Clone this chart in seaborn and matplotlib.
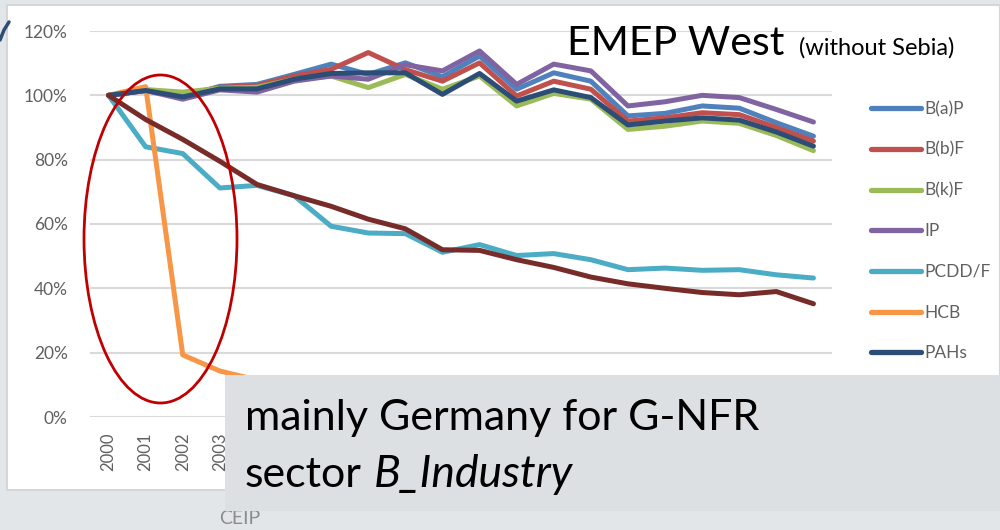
import numpy as np
import pandas as pd
import matplotlib
matplotlib.use("Agg")
import matplotlib.pyplot as plt
import seaborn as sns
from matplotlib.patches import Rectangle, Ellipse
from matplotlib.lines import Line2D

# ---------------- data ----------------
years = [str(y) for y in range(2000, 2020)]
bap = [100, 101.5, 99.5, 102.8, 103.4, 106.5, 109.7, 106.5, 110.1, 105.8,
       112.2, 101.9, 107.0, 104.4, 93.6, 94.4, 96.7, 96.0, 91.5, 87.3]
bbf = [100, 101.5, 100.2, 102.5, 103.0, 106.0, 108.1, 113.3, 108.0, 104.4,
       110.1, 99.8, 104.4, 101.9, 92.0, 93.0, 94.6, 94.0, 90.0, 85.8]
bkf = [100, 101.8, 101.0, 102.2, 102.5, 105.0, 106.0, 102.4, 106.5, 101.9,
       106.0, 96.7, 100.6, 98.8, 89.4, 90.4, 92.0, 91.3, 87.5, 82.8]
ip = [100, 101.5, 98.8, 101.7, 101.0, 104.4, 106.0, 105.0, 109.5, 107.6,
      113.8, 103.4, 109.7, 107.6, 96.7, 98.0, 100.0, 99.3, 95.6, 91.7]
pcdd = [100, 84.0, 81.9, 71.2, 72.0, 68.8, 59.3, 57.2, 57.0, 51.2,
        53.6, 50.2, 50.8, 48.9, 45.8, 46.3, 45.6, 45.8, 44.2, 43.2]
hcb = [100, 102.7, 19.3, 14.3, 11.5, 10.5, 10.0, 9.5, 9.0, 8.5,
       8.5, 8.0, 8.0, 7.5, 7.5, 7.0, 7.0, 7.0, 6.5, 6.5]
pahs = [100, 101.5, 99.5, 102.0, 102.0, 105.0, 106.8, 107.0, 107.0, 100.3,
        106.8, 98.2, 101.7, 99.3, 90.8, 92.0, 93.0, 92.3, 88.6, 84.2]
pcbs = [100, 92.5, 86.3, 79.5, 72.3, 68.8, 65.5, 61.5, 58.5, 52.0,
        51.8, 48.9, 46.5, 43.5, 41.4, 40.0, 38.7, 38.0, 39.0, 35.2]

series_names = ["B(a)P", "B(b)F", "B(k)F", "IP", "PCDD/F", "HCB", "PAHs", "PCBs"]
series_values = [bap, bbf, bkf, ip, pcdd, hcb, pahs, pcbs]
legend_names = ["B(a)P", "B(b)F", "B(k)F", "IP", "PCDD/F", "HCB", "PAHs"]
colors = ["#4F81BD", "#C0504D", "#9BBB59", "#8064A2", "#4BACC6", "#F79646",
          "#2C4D75", "#772C2A"]
y_ticks = [0, 20, 40, 60, 80, 100, 120]
y_tick_labels = ["0%", "20%", "40%", "60%", "80%", "100%", "120%"]

rows = []
for name, vals in zip(series_names, series_values):
    for i, v in enumerate(vals):
        rows.append({"pos": i, "year": years[i], "value": v, "series": name})
df = pd.DataFrame(rows)

# ---------------- style ----------------
sns.set_theme(style="white")
plt.rcParams['font.family'] = ['Lato', 'DejaVu Sans']

W, H = 1000, 530
fig = plt.figure(figsize=(10, 5.3), dpi=100)
fig.patch.set_facecolor('#e2e6e9')

def fx(px):
    return px / W

def fy(py):
    return 1 - py / H

# chart area (white)
fig.add_artist(Rectangle((fx(7), fy(490)), (1000 - 7) / W, (490 - 5) / H,
                         transform=fig.transFigure, facecolor='white',
                         edgecolor='#d4d6d8', lw=1.5, zorder=-5))
# decorative arc top-left
fig.add_artist(Line2D([fx(0), fx(4), fx(9)], [fy(40), fy(30), fy(22)],
                      transform=fig.transFigure, color='#2C4D75', lw=2.5, zorder=-4))

ax = fig.add_axes([fx(90), fy(417), (832 - 90) / W, (417 - 31) / H])
ax.patch.set_visible(False)

sns.lineplot(data=df, x="pos", y="value", hue="series", hue_order=series_names,
             palette=colors, lw=3.6, ax=ax, legend=False, sort=False)
for ln in ax.get_lines():
    ln.set_solid_capstyle('round')
    ln.set_solid_joinstyle('round')

ax.set_xlim(-0.5, len(years) - 0.5)
ax.set_ylim(0, 120)
ax.set_yticks(y_ticks)
ax.set_yticklabels(y_tick_labels)
ax.set_xticks(range(len(years)))
ax.set_xticklabels(years, rotation=90)
ax.tick_params(axis='y', length=0, pad=16, labelsize=12.5, labelcolor='#606060')
ax.tick_params(axis='x', length=0, pad=11, labelsize=12, labelcolor='#606060')
# labels of later years lie beneath the grey note box in the reference
for i, lab in enumerate(ax.get_xticklabels()):
    if i >= 4:
        lab.set_visible(False)
ax.set_xlabel("")
ax.set_ylabel("")
for s in ax.spines.values():
    s.set_visible(False)
ax.grid(axis='y', color='#d9d9d9', lw=1.5)
ax.set_axisbelow(True)

# legend
handles = [Line2D([0], [0], color=c, lw=3.8, solid_capstyle='round')
           for c in colors[:7]]
fig.legend(handles, legend_names, loc='upper left',
           bbox_to_anchor=(fx(864), fy(94)), frameon=False, fontsize=12.5,
           labelcolor='#606060', handlelength=2.9, handletextpad=0.2,
           labelspacing=1.42, borderaxespad=0)

# title
fig.text(fx(567), fy(55), "EMEP West", fontsize=29.5, va='baseline', ha='left',
         color='black')
fig.text(fx(799), fy(55), "(without Sebia)", fontsize=17, va='baseline',
         ha='left', color='black')

# red ellipse annotation
fig.add_artist(Ellipse((fx(160.5), fy(239)), 153 / W, 328 / H,
                       transform=fig.transFigure, fill=False,
                       edgecolor='#C00000', lw=2, zorder=5))

# grey text box
fig.add_artist(Rectangle((fx(225), fy(511)), (1000 - 225) / W, (511 - 375) / H,
                         transform=fig.transFigure, facecolor='#dde0e3',
                         edgecolor='none', zorder=6))
fig.text(fx(245), fy(430), "mainly Germany for G-NFR", fontsize=31,
         va='baseline', ha='left', color='black', zorder=7)
fig.text(fx(245), fy(487), "sector", fontsize=31, va='baseline', ha='left',
         color='black', zorder=7)
fig.text(fx(374), fy(487), "B_Industry", fontsize=32, va='baseline', ha='left',
         color='black', style='italic', zorder=7)

fig.text(fx(240), fy(519), "CEIP", fontsize=14, va='center', ha='center',
         color='#8a8c8e')

fig.savefig("out.png", dpi=100)
